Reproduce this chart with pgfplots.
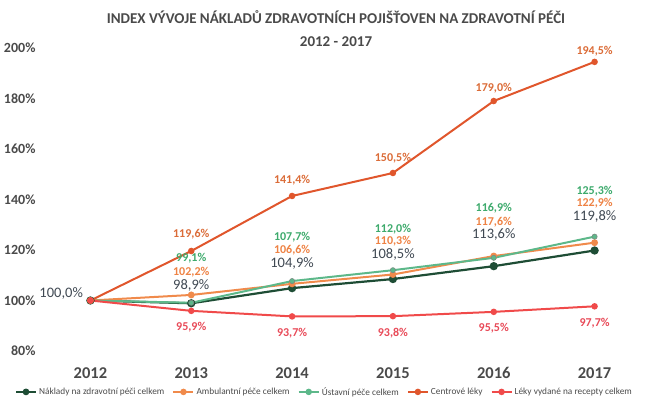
\documentclass[border=0pt]{standalone}
\usepackage{pgfplots}
\pgfplotsset{compat=1.18}
\usepackage{fontspec}
\setmainfont{Carlito}
\definecolor{cNak}{HTML}{1E4D35}
\definecolor{cAmb}{HTML}{F08A4B}
\definecolor{cUst}{HTML}{5DB88A}
\definecolor{cCen}{HTML}{E0562C}
\definecolor{cLek}{HTML}{F04A4A}
\definecolor{lNak}{HTML}{3F4852}
\definecolor{lAmb}{HTML}{EE8244}
\definecolor{lUst}{HTML}{3DAA6C}
\definecolor{lCen}{HTML}{DB6C38}
\definecolor{lLek}{HTML}{E84A58}
\definecolor{txt}{HTML}{4A4A4A}
\begin{document}
\begin{tikzpicture}
\useasboundingbox (0,0) rectangle (656pt,410pt);
\node[font=\bfseries\fontsize{15}{16}\selectfont, text=txt] at (336pt,393pt) {INDEX VÝVOJE NÁKLADŮ ZDRAVOTNÍCH POJIŠŤOVEN NA ZDRAVOTNÍ PÉČI};
\node[font=\bfseries\fontsize{15}{16}\selectfont, text=txt] at (336pt,368pt) {2012 - 2017};
\begin{axis}[
  at={(40pt,59pt)}, anchor=south west,
  scale only axis, width=605pt, height=303pt,
  xmin=-0.5, xmax=5.5, ymin=80, ymax=200,
  xtick={0,...,5}, xticklabels={2012,2013,2014,2015,2016,2017},
  ytick={80,100,...,200},
  yticklabel={\pgfmathprintnumber{\tick}\%},
  /pgf/number format/assume math mode=true,
  axis line style={draw=none},
  major tick length=0pt,
  x tick label style={font=\bfseries\fontsize{16.5}{17}\selectfont, text=txt, yshift=-13pt},
  y tick label style={font=\bfseries\fontsize{14}{15}\selectfont, text=txt, xshift=-1pt},
  legend columns=5,
  legend style={at={(0.47,-0.135)}, anchor=center, draw=none, fill=none,
    font=\fontsize{9.3}{10}\selectfont, text=txt,
    /tikz/every even column/.append style={column sep=6pt}},
  legend image code/.code={\draw[#1, line width=2.2pt] (0pt,0pt) -- (20pt,0pt); \fill[#1] (10pt,0pt) circle (2.2pt);},
  clip=false,
]
\addplot[cNak, line width=2.2pt, mark=*, mark size=3pt] coordinates {(0,100) (1,98.9) (2,104.9) (3,108.5) (4,113.6) (5,119.8)};
\addlegendentry{Náklady na zdravotní péči celkem}
\addplot[cAmb, line width=2pt, mark=*, mark size=2.4pt] coordinates {(0,100) (1,102.2) (2,106.6) (3,110.3) (4,117.6) (5,122.9)};
\addlegendentry{Ambulantní péče celkem}
\addplot[cUst, line width=2pt, mark=*, mark size=2.6pt, mark options={draw=gray!80!cUst, line width=0.6pt}] coordinates {(0,100) (1,99.1) (2,107.7) (3,112.0) (4,116.9) (5,125.3)};
\addlegendentry{Ústavní péče celkem}
\addplot[cCen, line width=2pt, mark=*, mark size=2.2pt] coordinates {(0,100) (1,119.6) (2,141.4) (3,150.5) (4,179.0) (5,194.5)};
\addlegendentry{Centrové léky}
\addplot[cLek, line width=2pt, mark=*, mark size=2.2pt] coordinates {(0,100) (1,95.9) (2,93.7) (3,93.8) (4,95.5) (5,97.7)};
\addlegendentry{Léky vydané na recepty celkem}
% data labels
\begin{scope}[every node/.style={inner sep=0.5pt, font=\bfseries\fontsize{12}{13}\selectfont}]
\node[text=lNak, font=\fontsize{14.5}{15}\selectfont] at (axis cs:-0.29,102.6) {100,0\%};
\node[text=lCen] at (axis cs:1,126.3) {119,6\%};
\node[text=lCen] at (axis cs:2,147.7) {141,4\%};
\node[text=lCen] at (axis cs:3,156.4) {150,5\%};
\node[text=lCen] at (axis cs:4,184.2) {179,0\%};
\node[text=lCen] at (axis cs:5,198.9) {194,5\%};
\node[text=lUst] at (axis cs:1,116.8) {99,1\%};
\node[text=lUst] at (axis cs:2,125.1) {107,7\%};
\node[text=lUst] at (axis cs:3,128.3) {112,0\%};
\node[text=lUst] at (axis cs:4,136.6) {116,9\%};
\node[text=lUst] at (axis cs:5,143.2) {125,3\%};
\node[text=lAmb] at (axis cs:1,111.3) {102,2\%};
\node[text=lAmb] at (axis cs:2,120.0) {106,6\%};
\node[text=lAmb] at (axis cs:3,123.6) {110,3\%};
\node[text=lAmb] at (axis cs:4,131.1) {117,6\%};
\node[text=lAmb] at (axis cs:5,138.4) {122,9\%};
\node[text=lNak, font=\fontsize{14.5}{15}\selectfont] at (axis cs:1,106.1) {98,9\%};
\node[text=lNak, font=\fontsize{14.5}{15}\selectfont] at (axis cs:2,114.5) {104,9\%};
\node[text=lNak, font=\fontsize{14.5}{15}\selectfont] at (axis cs:3,118.4) {108,5\%};
\node[text=lNak, font=\fontsize{14.5}{15}\selectfont] at (axis cs:4,126.1) {113,6\%};
\node[text=lNak, font=\fontsize{14.5}{15}\selectfont] at (axis cs:5,133.2) {119,8\%};
\node[text=lLek] at (axis cs:1,89.5) {95,9\%};
\node[text=lLek] at (axis cs:2,87.1) {93,7\%};
\node[text=lLek] at (axis cs:3,87.1) {93,8\%};
\node[text=lLek] at (axis cs:4,89.1) {95,5\%};
\node[text=lLek] at (axis cs:5,91.1) {97,7\%};
\end{scope}
\end{axis}
\end{tikzpicture}
\end{document}
